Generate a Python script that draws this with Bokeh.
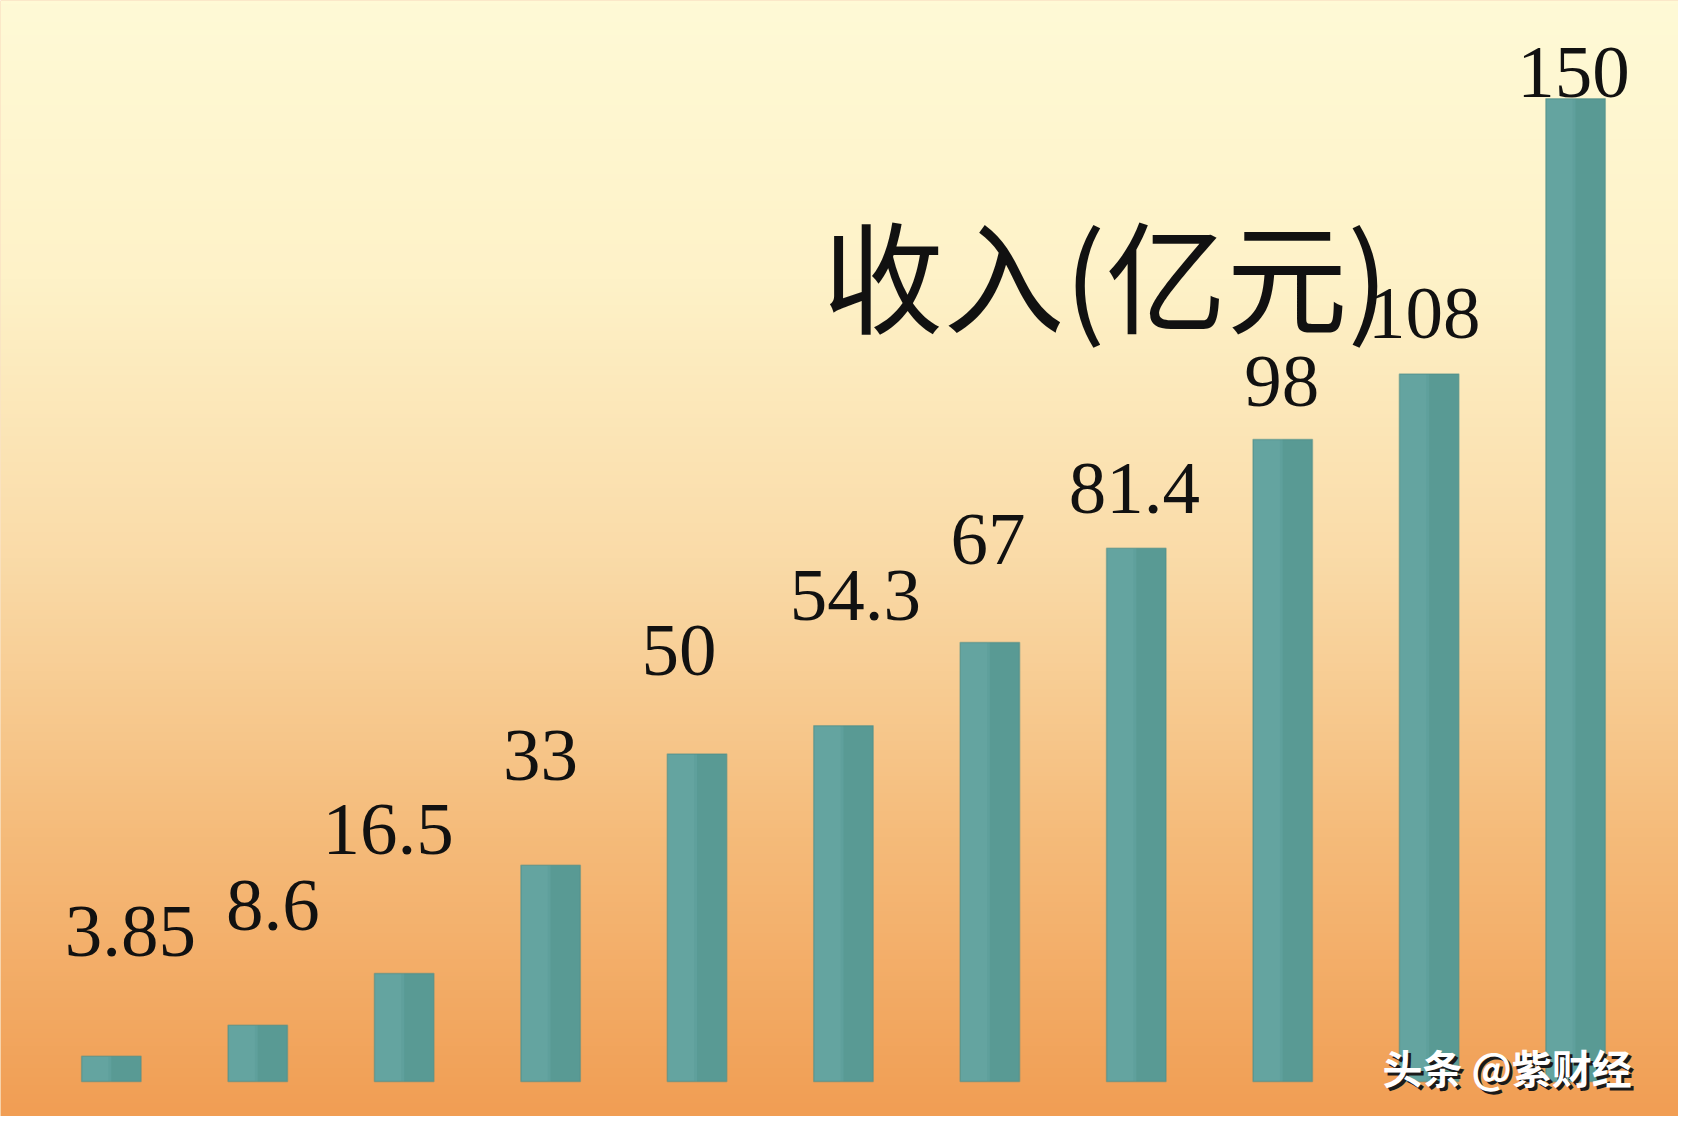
import numpy as np
from bokeh.core.properties import value
from bokeh.embed import file_html
from bokeh.models import ColumnDataSource, Label, Range1d
from bokeh.plotting import figure
from bokeh.resources import INLINE
from bokeh.transform import dodge

# Revenue per period (亿元)
values = [3.85, 8.6, 16.5, 33, 50, 54.3, 67, 81.4, 98, 108, 150]
labels = ["3.85", "8.6", "16.5", "33", "50", "54.3", "67", "81.4", "98", "108", "150"]

# label nudges in screen pixels (the original labels sit a bit off the bars)
label_dx = [19, 15, -16, -10, -18, 12, -2, -2, -1, -5, -2]
label_dy = [-100, -95, -119, -85, -79, -106, -79, -35, -33, -36, -2]

W, H = 1678, 1116
X0, X1 = -0.757, 10.703
Y0, Y1 = -5.34, 165.0

idx = list(range(len(values)))
src = ColumnDataSource(dict(x=idx, top=values, label=labels, dx=label_dx, dy=label_dy))

p = figure(width=W, height=H, output_backend="svg", toolbar_location=None,
           x_range=Range1d(X0, X1), y_range=Range1d(Y0, Y1), min_border=0)
p.axis.visible = False
p.grid.visible = False
p.outline_line_color = None
p.background_fill_color = "#F6C88C"
p.border_fill_color = "white"

# vertical cream -> orange background
stops = [(0.0, (255, 250, 214)), (0.25, (254, 242, 200)), (0.5, (250, 219, 168)),
         (0.75, (245, 187, 122)), (1.0, (241, 158, 84))]
n = 256
t = np.linspace(0, 1, n)
rgb = np.zeros((n, 3))
for c in range(3):
    rgb[:, c] = np.interp(t, [s[0] for s in stops], [s[1][c] for s in stops])
img = np.zeros((n, 1), dtype=np.uint32)
view = img.view(dtype=np.uint8).reshape((n, 1, 4))
# image rows go bottom -> top
view[:, 0, 0] = rgb[::-1, 0]
view[:, 0, 1] = rgb[::-1, 1]
view[:, 0, 2] = rgb[::-1, 2]
view[:, 0, 3] = 255
p.image_rgba(image=[img], x=X0, y=Y0, dw=X1 - X0, dh=Y1 - Y0)

# teal bars, a touch lighter on the left and darker on the right
p.vbar(x="x", top="top", bottom=0, width=0.406, source=src,
       fill_color="#5FA09C", line_color=None)
p.vbar(x=dodge("x", -0.11, range=p.x_range), top="top", bottom=0, width=0.18,
       source=src, fill_color="#80B8B8", fill_alpha=0.18, line_color=None)
p.vbar(x=dodge("x", 0.1, range=p.x_range), top="top", bottom=0, width=0.2,
       source=src, fill_color="#3F8078", fill_alpha=0.2, line_color=None)
p.vbar(x="x", top="top", bottom=0, width=0.406, source=src,
       fill_color=None, line_color="#4C8C86", line_width=1.5, line_alpha=0.5)

p.text(x="x", y="top", text="label", source=src, x_offset="dx", y_offset="dy",
       text_align="center", text_baseline="bottom",
       text_font=value("Liberation Serif"), text_font_size="75px",
       text_color="#111111")

p.add_layout(Label(x=822, y=H - 271, x_units="screen", y_units="screen",
                   text="收入(亿元)", text_baseline="middle",
                   text_font="Noto Sans CJK SC", text_font_size="121px",
                   text_color="#111111"))

# watermark: white text with a dark drop shadow
wm = dict(x_units="screen", y_units="screen", text="头条 @紫财经",
          text_baseline="middle", text_font="Noto Sans CJK SC",
          text_font_size="40px", text_font_style="bold")
p.add_layout(Label(x=1385, y=47, text_color="#1a1a1a", **wm))
p.add_layout(Label(x=1382, y=50, text_color="white", **wm))

open("out.html", "w").write(file_html(p, INLINE))
